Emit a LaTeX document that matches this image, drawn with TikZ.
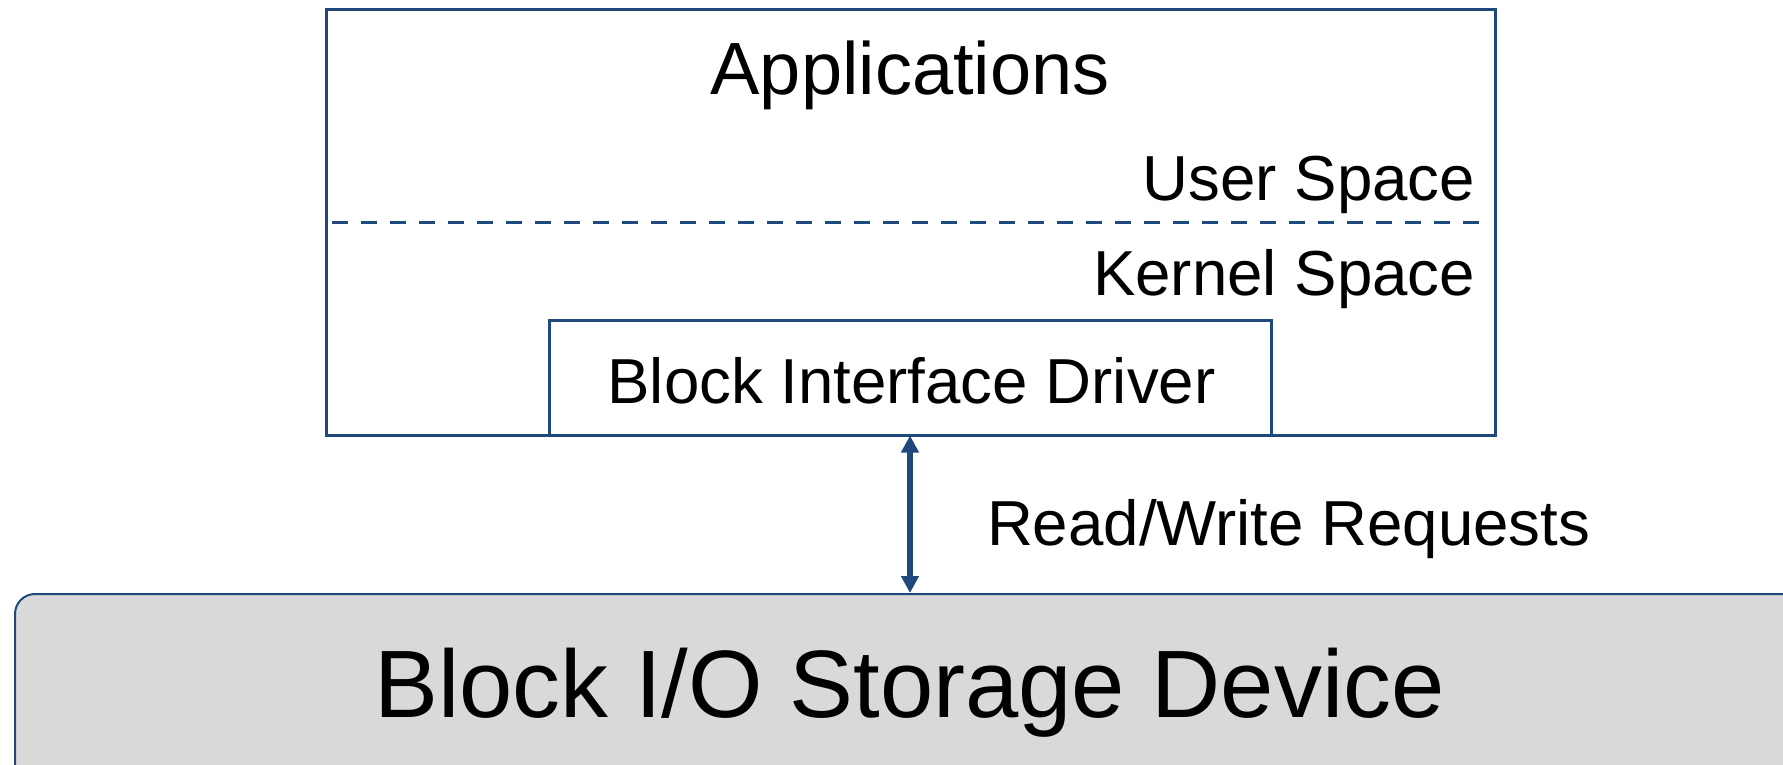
\documentclass[tikz,border=0pt]{standalone}
\usepackage{fontspec}
\setmainfont{Liberation Sans}
\usetikzlibrary{arrows.meta}
\definecolor{lineblue}{RGB}{31,73,125}
\definecolor{boxgray}{RGB}{217,217,217}
\begin{document}
\begin{tikzpicture}[x=0.5pt,y=-0.5pt,
  frame/.style={draw=lineblue,line width=1.5pt,inner sep=0pt,outer sep=0pt},
  lbl/.style={inner sep=0pt,outer sep=0pt,text=black},
  mid/.style={font=\fontsize{31.8pt}{36pt}\selectfont}]
\useasboundingbox (0,0) rectangle (1783,765);
\clip (0,0) rectangle (1783,765);
% outer box
\node[frame,minimum width=584.5pt,minimum height=212.75pt] (outer) at (910.5,222.75) {};
% dashed separator
\coordinate (dl) at (332,222);
\coordinate (dr) at (1486,222);
\draw[lineblue,line width=1.5pt,dash pattern=on 8pt off 6.5pt] (dl) -- (dr);
% inner box
\node[frame,minimum width=361pt,minimum height=57.75pt] (driver) at (910,377.75) {};
% bottom device
\node[draw=lineblue,line width=1pt,fill=boxgray,rounded corners=10pt,inner sep=0pt,minimum width=907.5pt,minimum height=118pt] (device) at (922.5,712) {};
% texts
\node[lbl,anchor=base,font=\fontsize{37pt}{42pt}\selectfont] (apps) at (910,94.5) {Applications};
\node[lbl,anchor=base east,mid] (user) at (1475,200) {User Space};
\node[lbl,anchor=base east,mid] (kernel) at (1475,295) {Kernel Space};
\node[lbl,anchor=base,mid] (drvtext) at (911.5,403.5) {Block Interface Driver};
\node[lbl,anchor=base west,mid] (rw) at (987,545) {Read/Write Requests};
\node[lbl,anchor=base,font=\fontsize{47.9pt}{54pt}\selectfont] (devtext) at (909.5,717) {Block I/O Storage Device};
% arrow
\draw[lineblue,line width=3.3pt,{Triangle[width=8.5pt,length=8.5pt]}-{Triangle[width=8.5pt,length=8.5pt]}] (driver.south) -- (driver.south |- device.north);
\end{tikzpicture}
\end{document}
